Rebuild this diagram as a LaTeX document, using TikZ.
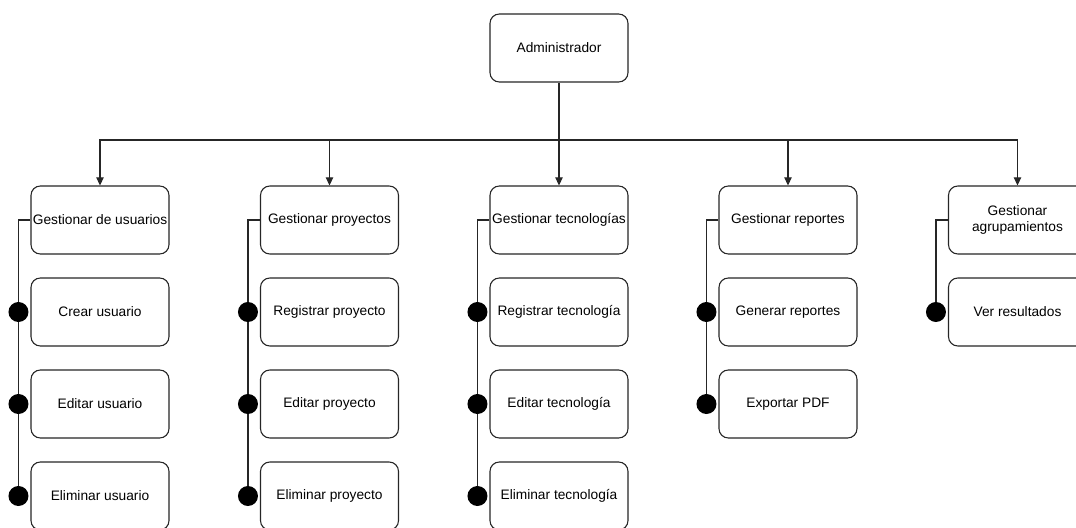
\documentclass[tikz,border=0pt]{standalone}
\usepackage{fontspec}
\setmainfont{Liberation Sans}
\usetikzlibrary{arrows.meta}
\begin{document}
\begin{tikzpicture}[x=0.75pt,y=-0.75pt,
  box/.style={draw=black!85, line width=0.8pt, rounded corners=7pt, fill=white,
    minimum width=103.5pt, minimum height=51pt, inner sep=0pt, align=center,
    font=\fontsize{10.3pt}{12.5pt}\selectfont},
  dot/.style={circle, fill=black, inner sep=0pt, minimum size=15pt},
  link/.style={draw=black!85, line width=0.8pt},
  arrow/.style={link, -{Triangle[length=6pt,width=5.5pt]}}]
\useasboundingbox (0,0) rectangle (1076,528);
\clip (0,0) rectangle (1076,528);

% root
\node[box] (admin) at (559,48) {Administrador};

% second level
\node[box] (g1) at (100,220) {Gestionar de usuarios};
\node[box] (g2) at (329.5,220) {Gestionar proyectos};
\node[box] (g3) at (559,220) {Gestionar tecnologías};
\node[box] (g4) at (788,220) {Gestionar reportes};
\node[box] (g5) at (1017.5,220) {Gestionar\\agrupamientos};

% leaves
\node[box] (a1) at (100,312) {Crear usuario};
\node[box] (a2) at (100,404) {Editar usuario};
\node[box] (a3) at (100,496) {Eliminar usuario};
\node[box] (b1) at (329.5,312) {Registrar proyecto};
\node[box] (b2) at (329.5,404) {Editar proyecto};
\node[box] (b3) at (329.5,496) {Eliminar proyecto};
\node[box] (c1) at (559,312) {Registrar tecnología};
\node[box] (c2) at (559,404) {Editar tecnología};
\node[box] (c3) at (559,496) {Eliminar tecnología};
\node[box] (e1) at (788,312) {Generar reportes};
\node[box] (e2) at (788,404) {Exportar PDF};
\node[box] (f1) at (1017.5,312) {Ver resultados};

% bus from the root to the second level
\coordinate (bus) at (559,140);
\draw[link] (admin.south) -- (bus);
\foreach \g in {g1,g2,g3,g4,g5}
  \draw[arrow] (bus) -| (\g.north);

% terminal dots beside each leaf
\foreach \leaf in {a1,a2,a3,b1,b2,b3,c1,c2,c3,e1,e2,f1}
  \coordinate (\leaf dot) at ([xshift=-9pt]\leaf.west);

% side rails from each group down to its last leaf
\foreach \g/\last in {g1/a3, g2/b3, g3/c3, g4/e2, g5/f1}
  \draw[link] (\g.west) -| (\last dot);

\foreach \leaf in {a1,a2,a3,b1,b2,b3,c1,c2,c3,e1,e2,f1}
  \node[dot] at (\leaf dot) {};
\end{tikzpicture}
\end{document}
